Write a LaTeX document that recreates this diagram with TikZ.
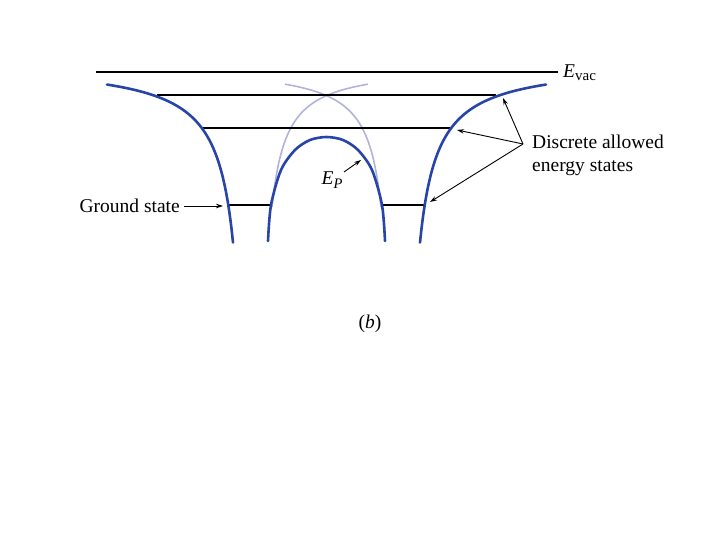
\documentclass[tikz,border=0pt]{standalone}
\usepackage{fontspec}
\setmainfont{Liberation Serif}
\usetikzlibrary{arrows.meta}
\definecolor{wellblue}{RGB}{40,68,168}
\definecolor{lightpot}{RGB}{178,178,218}
\tikzset{
  level/.style={black, line width=1.8pt},
  pot/.style={wellblue, line width=2.6pt, line cap=round},
  ghost/.style={lightpot, line width=1.6pt},
  pointer/.style={black, line width=0.9pt, -{Stealth[length=7pt,width=4.5pt]}},
  lbl/.style={font=\fontsize{19.5}{23}\selectfont, inner sep=0pt}
}
\begin{document}
\begin{tikzpicture}[x=1pt,y=-1pt]
\useasboundingbox (0,0) rectangle (720,540);
% individual atom potentials (light)
\draw[ghost] plot[domain=272:368, samples=60, smooth] (\x, {65+2130/(\x-257)});
\draw[ghost] plot[domain=285:381, samples=60, smooth] (\x, {65+2130/(396-\x)});
% energy levels
\draw[level] (96,72) -- (558,72);
\draw[level] (157,95) -- (496,95);
\draw[level] (202,128) -- (451,128);
\draw[level] (228,205) -- (271,205);
\draw[level] (382,205) -- (425,205);
% combined potential (blue)
\draw[pot] plot[domain=107:233, samples=80, smooth] (\x, {62+3250/(251-\x)});
\draw[pot] plot[domain=420:546, samples=80, smooth] (\x, {62+3250/(\x-402)});
\draw[pot] plot[smooth] coordinates {(268,241) (271,205) (281,170) (295,150) (310,140) (326.5,137) (343,140) (358,150) (372,170) (382,205) (385,241)};
% labels
\node[lbl, anchor=west] (evac) at (563,73) {\textit{E}\raisebox{-0.35ex}{\fontsize{15}{15}\selectfont vac}};
\node[lbl] (ep) at (332,180) {\textit{E}\raisebox{-0.4ex}{\fontsize{14.5}{14.5}\selectfont\textit{P}}};
\node[lbl, anchor=east] (ground) at (180,206) {Ground state};
\node[lbl, anchor=west, align=left] (discrete) at (532,155) {Discrete allowed\\energy states};
\node[lbl] (b) at (370,324) {(\textit{b})};
% arrow targets
\coordinate (epTip) at (361,160);
\coordinate (gTip) at (223,206);
\coordinate (dSrc) at (523,144);
\coordinate (d1) at (503,98);
\coordinate (d2) at (457,130);
\coordinate (d3) at (430,202);
\draw[pointer] (344,172) -- (epTip);
\draw[pointer] (ground.east) ++(4,0) -- (gTip);
\draw[pointer] (dSrc) -- (d1);
\draw[pointer] (dSrc) -- (d2);
\draw[pointer] (dSrc) -- (d3);
\end{tikzpicture}
\end{document}
